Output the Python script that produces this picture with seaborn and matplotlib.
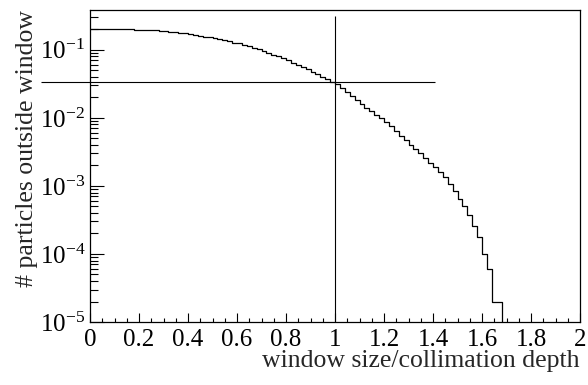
import numpy as np
import pandas as pd
import matplotlib
matplotlib.use("Agg")
import matplotlib.pyplot as plt
import seaborn as sns
from matplotlib.ticker import MultipleLocator, LogLocator, LogFormatterMathtext, NullFormatter

# histogram: 100 bins of width 0.02 over [0, 2], fraction of particles outside window
bin_width = 0.02
bin_range = (0.0, 2.0)
bin_values = [
    0.204, 0.204, 0.204, 0.203, 0.203, 0.202, 0.202, 0.201, 0.200, 0.199,
    0.198, 0.197, 0.195, 0.193, 0.190, 0.187, 0.184, 0.181, 0.178, 0.174,
    0.170, 0.166, 0.161, 0.157, 0.152, 0.148, 0.143, 0.138, 0.133, 0.128,
    0.124, 0.118, 0.113, 0.108, 0.103, 0.097, 0.091, 0.085, 0.080, 0.075,
    0.070, 0.065, 0.0605, 0.056, 0.052, 0.048, 0.044, 0.0405, 0.037, 0.034,
    0.031, 0.0272, 0.0238, 0.0209, 0.0183, 0.0160, 0.0142, 0.0126, 0.0112, 0.0099,
    0.0088, 0.0075, 0.0064, 0.0055, 0.0047, 0.0040, 0.00345, 0.0030, 0.0026, 0.0022,
    0.0019, 0.0016, 0.00135, 0.00108, 0.00085, 0.00065, 0.0005, 0.00037, 0.00026, 0.00018,
    0.0001, 0.00006, 0.00002, 0.00002,
] + [0.0] * 16

# reference lines: window = collimation depth, and the level there
cut_x = 1.0
cut_x_top = 0.316
cut_level = 0.0342
cut_level_span = (-0.2, 1.41)

xlabel = "window size/collimation depth"
ylabel = "# particles outside window"

sns.set_theme(style="ticks")
plt.rcParams['font.family'] = ['Liberation Serif', 'DejaVu Serif']
plt.rcParams['mathtext.fontset'] = 'stix'

fig = plt.figure(figsize=(5.88, 3.85), dpi=100)
ax = fig.add_axes([90 / 588, 1 - 322 / 385, 490 / 588, 312 / 385])

nbins = len(bin_values)
df = pd.DataFrame({"x": bin_range[0] + bin_width * (np.arange(nbins) + 0.5),
                   "w": bin_values})
sns.histplot(data=df, x="x", weights="w", binwidth=bin_width, binrange=bin_range,
             element="step", fill=False, color="black", linewidth=0.9, ax=ax)

ax.set_yscale("log")
ax.set_xlim(0, 2)
ax.set_ylim(1e-5, 0.385)

ax.vlines(cut_x, 1e-5, cut_x_top, color="black", linewidth=0.8)
ax.hlines(cut_level, cut_level_span[0], cut_level_span[1], color="black",
          linewidth=0.8, clip_on=False)

ax.xaxis.set_major_locator(MultipleLocator(0.2))
ax.xaxis.set_minor_locator(MultipleLocator(0.05))
ax.xaxis.set_major_formatter(plt.FuncFormatter(lambda v, p: "%g" % round(v, 2)))
ax.yaxis.set_major_locator(LogLocator(base=10))
ax.yaxis.set_minor_locator(LogLocator(base=10, subs=np.arange(2, 10)))
ax.yaxis.set_major_formatter(LogFormatterMathtext())
ax.yaxis.set_minor_formatter(NullFormatter())

ax.tick_params(axis="both", which="both", direction="in", colors="black",
               labelsize=18, top=False, right=False)
ax.tick_params(axis="x", which="major", length=6.5, width=0.8, pad=5)
ax.tick_params(axis="x", which="minor", length=3.2, width=0.8)
ax.tick_params(axis="y", which="major", length=10, width=0.8, pad=3.5)
ax.tick_params(axis="y", which="minor", length=5.5, width=0.8)

for sp in ax.spines.values():
    sp.set_visible(True)
    sp.set_color("black")
    sp.set_linewidth(0.9)

ax.set_xlabel(xlabel, fontsize=18.5, loc="right", labelpad=-1)
ax.set_ylabel(ylabel, fontsize=18.5, loc="top", labelpad=1)

fig.savefig("out.png", dpi=100)
